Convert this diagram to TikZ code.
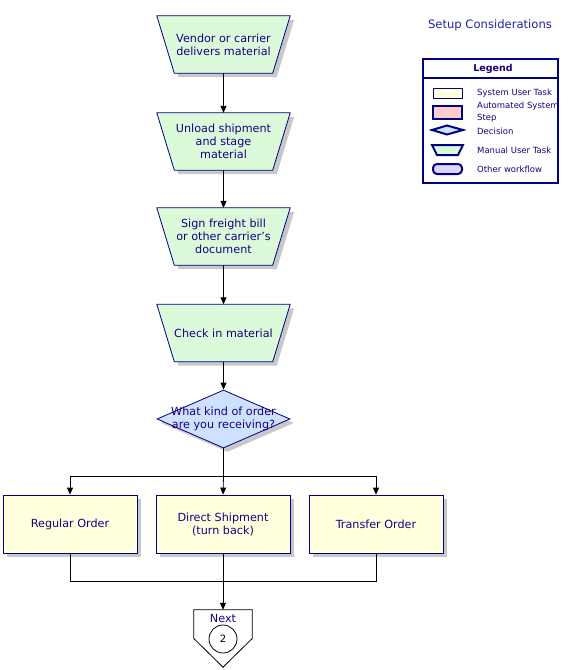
\documentclass[tikz,border=0pt]{standalone}
\usepackage{fontspec}
\setmainfont{DejaVu Sans}
\usetikzlibrary{shapes.geometric,arrows.meta,shadows,backgrounds}
\definecolor{navy}{RGB}{0,0,128}
\definecolor{txt}{RGB}{24,0,128}
\definecolor{trapfill}{RGB}{218,250,218}
\definecolor{boxfill}{RGB}{255,255,222}
\definecolor{decfill}{RGB}{206,226,255}
\definecolor{shadowgray}{RGB}{200,200,200}
\definecolor{pinkfill}{RGB}{255,204,204}
\definecolor{lavfill}{RGB}{224,210,255}
\definecolor{titleblue}{RGB}{32,32,170}
\begin{document}
\begin{tikzpicture}[x=1pt,y=-1pt,
 shad/.style={drop shadow={shadow xshift=4pt,shadow yshift=-4pt,fill=shadowgray,opacity=1}},
 txtfont/.style={text=txt,font=\fontsize{11.2}{13}\selectfont,align=center},
 base/.style={draw=navy,line width=0.8pt,txtfont,inner sep=1pt,shad},
 trap/.style={rectangle,txtfont,inner sep=1pt,minimum width=133pt,minimum height=57pt},
 task/.style={base,rectangle,minimum width=134pt,minimum height=58pt,fill=boxfill},
 dec/.style={base,diamond,minimum width=133pt,minimum height=58pt,fill=decfill},
 arr/.style={-{Triangle[length=7pt,width=6pt]},line width=0.8pt},
 ln/.style={line width=0.8pt},
 legtxt/.style={font=\fontsize{8.5}{10}\selectfont,text=txt,anchor=west,inner sep=0pt},
 legshape/.style={draw=navy,line width=2pt},
]
\useasboundingbox (0,0) rectangle (570,670);

% title
\node[font=\fontsize{11.6}{14}\selectfont,text=titleblue,inner sep=0pt] (title) at (490,25) {Setup Considerations};

% main flow
\node[trap] (t1) at (223.5,44.5) {Vendor or carrier\\delivers material};
\node[trap] (t2) at (223.5,141.5) {Unload shipment\\and stage\\material};
\node[trap] (t3) at (223.5,236.5) {Sign freight bill\\or other carrier's\\document};
\node[trap] (t4) at (223.5,333) {Check in material};
\begin{scope}[on background layer]
\foreach \n in {t1,t2,t3,t4}{
  \fill[shadowgray] ([shift={(4,4)}]\n.north west) -- ([shift={(4,4)}]\n.north east)
     -- ([shift={(-13.5,4)}]\n.south east) -- ([shift={(21.5,4)}]\n.south west) -- cycle;
  \draw[navy,line width=0.8pt,fill=trapfill] (\n.north west) -- (\n.north east)
     -- ([xshift=-17.5pt]\n.south east) -- ([xshift=17.5pt]\n.south west) -- cycle;
}
\end{scope}
\node[dec,label={[txtfont,inner sep=0pt]center:What kind of order\\are you receiving?}] (d1) at (223.5,419) {};

\node[task] (b1) at (70,524) {Regular Order};
\node[task] (b2) at (223,524) {Direct Shipment\\(turn back)};
\node[task] (b3) at (376,524) {Transfer Order};

% off-page connector
\node[minimum width=58pt,minimum height=57pt,inner sep=0pt] (nx) at (223,638.5) {};
\draw[ln] (nx.north west) -- (nx.north east) -- (nx.east) -- (nx.south) -- (nx.west) -- cycle;
\node[txtfont,inner sep=0pt] (nxt) at (223,618) {Next};
\node[draw,circle,line width=0.8pt,minimum size=28pt,inner sep=0pt,font=\fontsize{10}{12}\selectfont] (c2) at (223,639) {2};

% connectors
\draw[arr] (t1.south) -- (t2.north);
\draw[arr] (t2.south) -- (t3.north);
\draw[arr] (t3.south) -- (t4.north);
\draw[arr] (t4.south) -- (d1.north);
\coordinate (j1) at (223.5,476);
\coordinate (j2) at (223,581);
\draw[ln] (d1.south) -- (j1);
\draw[arr] (j1) -| (b1.north);
\draw[arr] (j1) -| (b3.north);
\draw[arr] (j1) -- (b2.north);
\draw[ln] (b1.south) |- (j2);
\draw[ln] (b3.south) |- (j2);
\draw[arr] (b2.south) -- (nx.north);

% legend
\node[draw=navy,line width=2.5pt,minimum width=135pt,minimum height=124pt,inner sep=0pt] (leg) at (490.5,121) {};
\draw[navy,line width=2pt] (leg.west |- 0,78) -- (leg.east |- 0,78);
\node[font=\bfseries\fontsize{9.5}{11}\selectfont,text=txt,inner sep=0pt] (legt) at (493,68.5) {Legend};

\draw[draw=navy,line width=0.8pt,fill=boxfill] (433,88) rectangle (462,98);
\node[legtxt] (l1) at (477,93) {System User Task};
\draw[legshape,fill=pinkfill] (433,106) rectangle (462,119);
\node[legtxt] (l2) at (477,106) {Automated System};
\node[legtxt] (l2b) at (477,118) {Step};
\draw[legshape,fill=decfill] (432,130) -- (447,125.5) -- (463,130) -- (447,134.5) -- cycle;
\node[legtxt] (l3) at (477,131) {Decision};
\draw[legshape,fill=trapfill] (432,145) -- (463,145) -- (458,155) -- (437,155) -- cycle;
\node[legtxt] (l4) at (477,150) {Manual User Task};
\draw[legshape,fill=lavfill,rounded corners=4pt] (433,164) rectangle (462,174);
\node[legtxt] (l5) at (477,169) {Other workflow};
\end{tikzpicture}
\end{document}
